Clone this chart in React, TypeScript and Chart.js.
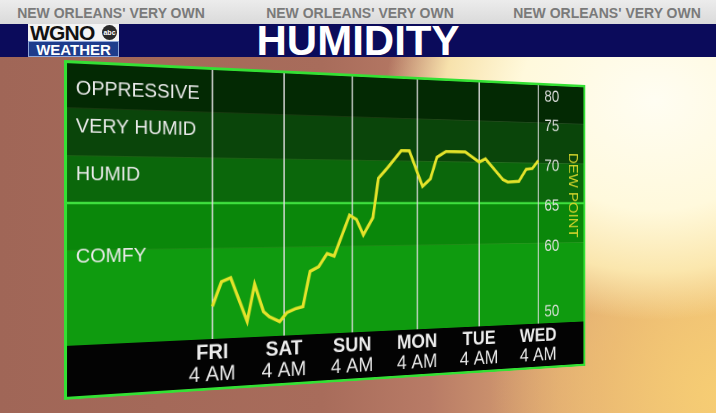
import React, { useEffect, useRef } from "react";
import { Chart, registerables } from "chart.js";

Chart.register(...registerables);

// ---------- data ----------
const hours = [0, 3, 6, 11.5, 14, 17, 19, 22.5, 25, 28, 30.5, 33, 36, 39, 41.5, 47, 49.5, 52, 55.5, 57.5, 61, 66, 69, 74, 77, 79.5, 83, 90.5, 96, 98.5, 105.5, 107.5, 112, 115, 117.5, 120];
const dewPoints = [53.6, 56.3, 56.7, 51.8, 55.9, 52.8, 52.2, 51.6, 52.6, 53.0, 53.2, 57.2, 57.7, 59.2, 58.9, 63.6, 63.1, 61.3, 63.3, 67.9, 69.2, 71.2, 71.2, 67.0, 67.9, 70.5, 71.2, 71.2, 70.0, 70.4, 67.9, 67.6, 67.7, 69.2, 69.3, 70.3];
const dayNames = ["FRI", "SAT", "SUN", "MON", "TUE", "WED"];
const dayHours = [0, 24, 48, 72, 96, 120];
const dayTime = "4 AM";
const yTicks = [80, 75, 70, 65, 60, 50];
const bandEdges = [80, 75, 70, 65, 60, 50];
const bandNames = ["OPPRESSIVE", "VERY HUMID", "HUMID", "COMFY"];
const bandNameValues = [77, 73, 68, 59.3];
const axisTitle = "DEW POINT";
const comfyLimit = 65;
const xMin = -46;
const xMax = 140;
const yMin = 50;
const yMax = 80;
const headerTag = "NEW ORLEANS' VERY OWN";
const title = "HUMIDITY";

// ---------- styles / layout ----------
const FONT = '"Liberation Sans", Arial, sans-serif';
const bandColors = ["#032903", "#0a450a", "#0b670b", "#0a870a", "#0f9b0f"];
const CW = 625;
const CH = 340;
const BLACK_H = 54;
const QUAD = { tl: [64, 60], tr: [585.5, 85], br: [585.5, 366], bl: [64, 400] };

function quadMatrix(): string {
  const [x0, y0] = QUAD.tl;
  const [x1, y1] = QUAD.tr;
  const [x2, y2] = QUAD.br;
  const [x3, y3] = QUAD.bl;
  const dx1 = x1 - x2, dx2 = x3 - x2, dx3 = x0 - x1 + x2 - x3;
  const dy1 = y1 - y2, dy2 = y3 - y2, dy3 = y0 - y1 + y2 - y3;
  const den = dx1 * dy2 - dx2 * dy1;
  const g = (dx3 * dy2 - dx2 * dy3) / den;
  const h = (dx1 * dy3 - dx3 * dy1) / den;
  const a = x1 - x0 + g * x1;
  const b = x3 - x0 + h * x3;
  const c = x0;
  const d = y1 - y0 + g * y1;
  const e = y3 - y0 + h * y3;
  const f = y0;
  const m = [a / CW, d / CW, 0, g / CW, b / CH, e / CH, 0, h / CH, 0, 0, 1, 0, c, f, 0, 1];
  return `matrix3d(${m.join(",")})`;
}

const panelPlugin = {
  id: "panel",
  beforeDatasetsDraw(chart: any) {
    const { ctx, chartArea, scales } = chart;
    const xs = scales.x;
    const ys = scales.y;
    const W = chart.width;
    const H = chart.height;
    ctx.save();
    // bands
    for (let i = 0; i < bandEdges.length - 1; i++) {
      const t = ys.getPixelForValue(bandEdges[i]);
      const b = ys.getPixelForValue(bandEdges[i + 1]);
      ctx.fillStyle = bandColors[i];
      ctx.fillRect(0, t, W, b - t);
    }
    // black label band
    ctx.fillStyle = "#030303";
    ctx.fillRect(0, chartArea.bottom, W, H - chartArea.bottom);
    // comfy limit line
    const y65 = ys.getPixelForValue(comfyLimit);
    ctx.strokeStyle = "#3ee03e";
    ctx.lineWidth = 2.5;
    ctx.beginPath();
    ctx.moveTo(0, y65);
    ctx.lineTo(W, y65);
    ctx.stroke();
    // day grid lines
    ctx.strokeStyle = "#dcdcdc";
    ctx.lineWidth = 1.6;
    dayHours.forEach((h) => {
      const px = xs.getPixelForValue(h);
      ctx.beginPath();
      ctx.moveTo(px, chartArea.top);
      ctx.lineTo(px, chartArea.bottom);
      ctx.stroke();
    });
    // band names
    ctx.fillStyle = "#ebebeb";
    ctx.font = `20px ${FONT}`;
    ctx.textAlign = "left";
    ctx.textBaseline = "middle";
    const lx = xs.getPixelForValue(-42.5);
    bandNames.forEach((n, i) => {
      ctx.fillText(n, lx, ys.getPixelForValue(bandNameValues[i]));
    });
    // y tick labels
    ctx.fillStyle = "#e4e4e4";
    ctx.font = `19px ${FONT}`;
    const tx = xs.getPixelForValue(122.5);
    yTicks.forEach((v) => {
      let py = ys.getPixelForValue(v) + 4;
      py = Math.max(chartArea.top + 17, Math.min(chartArea.bottom - 13, py));
      ctx.fillText(String(v), tx, py);
    });
    // axis title
    ctx.save();
    ctx.translate(xs.getPixelForValue(134.4), ys.getPixelForValue(66));
    ctx.rotate(Math.PI / 2);
    ctx.textAlign = "center";
    ctx.fillStyle = "#d4d42c";
    ctx.font = `18px ${FONT}`;
    ctx.fillText(axisTitle, 0, 0);
    ctx.restore();
    // day labels
    ctx.fillStyle = "#ececec";
    ctx.textAlign = "center";
    dayNames.forEach((n, i) => {
      const px = xs.getPixelForValue(dayHours[i]);
      ctx.font = `bold 22px ${FONT}`;
      ctx.fillText(n, px, chartArea.bottom + 15);
      ctx.font = `22px ${FONT}`;
      ctx.fillText(dayTime, px, chartArea.bottom + 38);
    });
    ctx.restore();
  },
  afterDraw(chart: any) {
    const { ctx } = chart;
    ctx.save();
    ctx.strokeStyle = "#34e034";
    ctx.lineWidth = 3;
    ctx.strokeRect(1.5, 1.5, chart.width - 3, chart.height - 3);
    ctx.restore();
  },
};

function HumidityChart() {
  const ref = useRef<HTMLCanvasElement | null>(null);
  useEffect(() => {
    if (!ref.current) return;
    const chart = new Chart(ref.current, {
      type: "line",
      data: {
        datasets: [
          {
            data: hours.map((h, i) => ({ x: h, y: dewPoints[i] })),
            borderColor: "#e3e32a",
            borderWidth: 3.5,
            pointRadius: 0,
            tension: 0,
            fill: false,
          },
        ],
      },
      options: {
        responsive: false,
        animation: false,
        devicePixelRatio: 2,
        layout: { padding: { top: 0, left: 0, right: 0, bottom: BLACK_H } },
        scales: {
          x: { type: "linear", min: xMin, max: xMax, display: false },
          y: { type: "linear", min: yMin, max: yMax, display: false },
        },
        plugins: { legend: { display: false }, tooltip: { enabled: false } },
      },
      plugins: [panelPlugin],
    } as any);
    return () => chart.destroy();
  }, []);
  return (
    <canvas
      ref={ref}
      width={CW}
      height={CH}
      style={{
        position: "absolute",
        left: 0,
        top: 0,
        width: CW,
        height: CH,
        transformOrigin: "0 0",
        transform: quadMatrix(),
      }}
    />
  );
}

export default function App() {
  const tagCenters = [111, 360, 607];
  return (
    <div
      style={{
        position: "fixed",
        left: 0,
        top: 0,
        width: 716,
        height: 413,
        overflow: "hidden",
        fontFamily: FONT,
        background:
          "radial-gradient(ellipse 270px 220px at 655px 100px, rgba(255,253,242,1) 0%, rgba(255,249,220,1) 50%, rgba(252,234,178,0.92) 78%, rgba(245,205,140,0) 100%)," +
          "radial-gradient(ellipse 230px 240px at 720px 395px, rgba(246,205,115,1) 0%, rgba(240,192,112,0.7) 50%, rgba(230,170,110,0) 100%)," +
          "linear-gradient(90deg, #a06657 0%, #a86c5b 45%, #b87b66 60%, #dca674 78%, #f2c984 100%)",
      }}
    >
      <div
        style={{
          position: "absolute",
          left: 0,
          top: 0,
          width: 716,
          height: 24,
          background: "linear-gradient(180deg, #ececec, #dadada)",
        }}
      >
        {tagCenters.map((cx, i) => (
          <div
            key={i}
            style={{
              position: "absolute",
              left: cx - 120,
              width: 240,
              top: 0,
              height: 26,
              lineHeight: "26px",
              textAlign: "center",
              fontSize: 14,
              fontWeight: "bold",
              color: "#7a7a7a",
              whiteSpace: "nowrap",
            }}
          >
            {headerTag}
          </div>
        ))}
      </div>
      <div
        style={{
          position: "absolute",
          left: 0,
          top: 24,
          width: 716,
          height: 33,
          background: "#0b0b5b",
        }}
      />
      <div
        style={{
          position: "absolute",
          left: 0,
          top: 24,
          width: 716,
          height: 33,
          lineHeight: "33px",
          textAlign: "center",
          fontSize: 42,
          fontWeight: "bold",
          color: "#ffffff",
        }}
      >
        {title}
      </div>
      {/* logo */}
      <div style={{ position: "absolute", left: 28, top: 24, width: 91, height: 17, background: "#f4f4f4" }} />
      <div
        style={{
          position: "absolute",
          left: 30,
          top: 24,
          height: 17,
          lineHeight: "17px",
          fontSize: 21,
          fontWeight: "bold",
          color: "#111",
          letterSpacing: -0.8,
        }}
      >
        WGNO
      </div>
      <div
        style={{
          position: "absolute",
          left: 102,
          top: 25,
          width: 15,
          height: 15,
          borderRadius: "50%",
          background: "#2a2a2a",
          color: "#fff",
          fontSize: 7,
          fontWeight: "bold",
          lineHeight: "15px",
          textAlign: "center",
        }}
      >
        abc
      </div>
      <div
        style={{
          position: "absolute",
          left: 28,
          top: 41,
          width: 89,
          height: 14,
          border: "1px solid #8fa6d8",
          background: "#1e3c8c",
          color: "#fff",
          fontSize: 15,
          fontWeight: "bold",
          lineHeight: "15px",
          textAlign: "center",
        }}
      >
        WEATHER
      </div>
      <HumidityChart />
    </div>
  );
}
